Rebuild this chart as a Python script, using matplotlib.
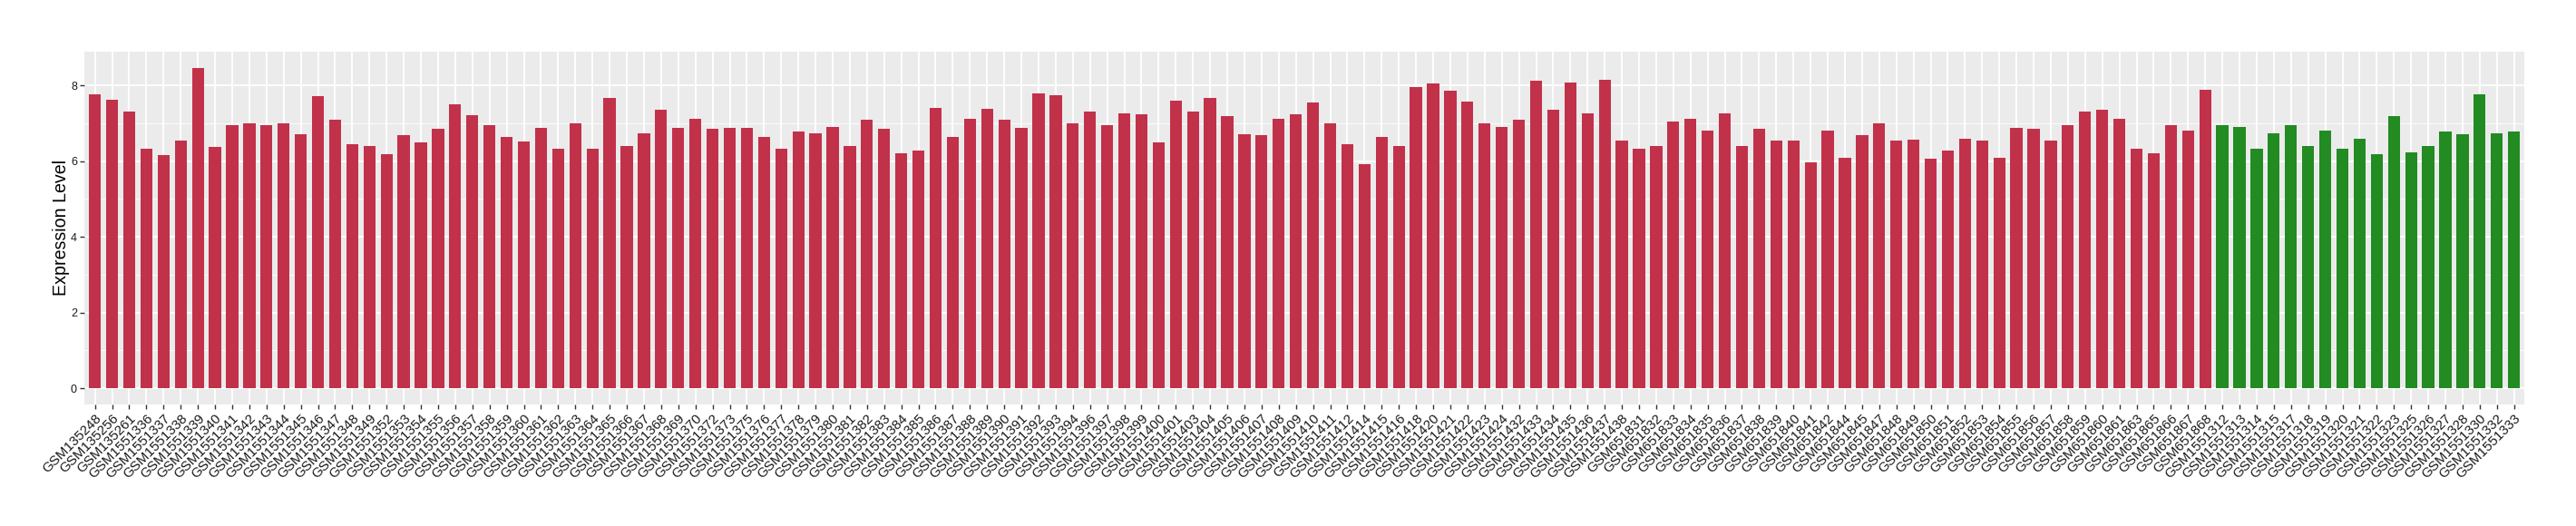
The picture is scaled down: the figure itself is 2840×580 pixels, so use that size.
import matplotlib
matplotlib.use("Agg")
import matplotlib.pyplot as plt
import numpy as np

plt.rcParams['font.family'] = ['Liberation Sans', 'DejaVu Sans']

samples_tumor = [
    "GSM135248", "GSM135256", "GSM135261", "GSM1551336", "GSM1551337", "GSM1551338",
    "GSM1551339", "GSM1551340", "GSM1551341", "GSM1551342", "GSM1551343", "GSM1551344",
    "GSM1551345", "GSM1551346", "GSM1551347", "GSM1551348", "GSM1551349", "GSM1551352",
    "GSM1551353", "GSM1551354", "GSM1551355", "GSM1551356", "GSM1551357", "GSM1551358",
    "GSM1551359", "GSM1551360", "GSM1551361", "GSM1551362", "GSM1551363", "GSM1551364",
    "GSM1551365", "GSM1551366", "GSM1551367", "GSM1551368", "GSM1551369", "GSM1551370",
    "GSM1551372", "GSM1551373", "GSM1551375", "GSM1551376", "GSM1551377", "GSM1551378",
    "GSM1551379", "GSM1551380", "GSM1551381", "GSM1551382", "GSM1551383", "GSM1551384",
    "GSM1551385", "GSM1551386", "GSM1551387", "GSM1551388", "GSM1551389", "GSM1551390",
    "GSM1551391", "GSM1551392", "GSM1551393", "GSM1551394", "GSM1551396", "GSM1551397",
    "GSM1551398", "GSM1551399", "GSM1551400", "GSM1551401", "GSM1551403", "GSM1551404",
    "GSM1551405", "GSM1551406", "GSM1551407", "GSM1551408", "GSM1551409", "GSM1551410",
    "GSM1551411", "GSM1551412", "GSM1551414", "GSM1551415", "GSM1551416", "GSM1551418",
    "GSM1551420", "GSM1551421", "GSM1551422", "GSM1551423", "GSM1551424", "GSM1551432",
    "GSM1551433", "GSM1551434", "GSM1551435", "GSM1551436", "GSM1551437", "GSM1551438",
    "GSM651831", "GSM651832", "GSM651833", "GSM651834", "GSM651835", "GSM651836",
    "GSM651837", "GSM651838", "GSM651839", "GSM651840", "GSM651841", "GSM651842",
    "GSM651844", "GSM651845", "GSM651847", "GSM651848", "GSM651849", "GSM651850",
    "GSM651851", "GSM651852", "GSM651853", "GSM651854", "GSM651855", "GSM651856",
    "GSM651857", "GSM651858", "GSM651859", "GSM651860", "GSM651861", "GSM651863",
    "GSM651865", "GSM651866", "GSM651867", "GSM651868",
]
values_tumor = [
    7.77, 7.63, 7.32, 6.34, 6.15, 6.55,
    8.47, 6.37, 6.94, 6.99, 6.96, 6.99,
    6.72, 7.72, 7.10, 6.46, 6.41, 6.18,
    6.70, 6.49, 6.85, 7.51, 7.22, 6.94,
    6.63, 6.51, 6.87, 6.32, 7.01, 6.32,
    7.67, 6.41, 6.74, 7.35, 6.87, 7.13,
    6.85, 6.89, 6.89, 6.63, 6.34, 6.79,
    6.74, 6.91, 6.41, 7.10, 6.85, 6.20,
    6.29, 7.41, 6.65, 7.13, 7.39, 7.10,
    6.87, 7.80, 7.75, 6.99, 7.30, 6.94,
    7.27, 7.25, 6.49, 7.61, 7.32, 7.67,
    7.20, 6.72, 6.70, 7.13, 7.25, 7.56,
    6.99, 6.46, 5.93, 6.63, 6.39, 7.97,
    8.06, 7.87, 7.58, 6.99, 6.91, 7.10,
    8.13, 7.36, 8.08, 7.27, 8.15, 6.54,
    6.32, 6.41, 7.05, 7.13, 6.82, 7.27,
    6.39, 6.85, 6.54, 6.55, 5.98, 6.82,
    6.08, 6.70, 6.99, 6.55, 6.58, 6.06,
    6.29, 6.60, 6.54, 6.10, 6.87, 6.85,
    6.55, 6.94, 7.32, 7.36, 7.13, 6.32,
    6.20, 6.96, 6.82, 7.89,
]
samples_normal = [
    "GSM1551312", "GSM1551313", "GSM1551314", "GSM1551315", "GSM1551317", "GSM1551318",
    "GSM1551319", "GSM1551320", "GSM1551321", "GSM1551322", "GSM1551323", "GSM1551325",
    "GSM1551326", "GSM1551327", "GSM1551328", "GSM1551330", "GSM1551332", "GSM1551333",
]
values_normal = [
    6.96, 6.91, 6.32, 6.74, 6.96, 6.39,
    6.82, 6.32, 6.60, 6.18, 7.20, 6.23,
    6.39, 6.79, 6.72, 7.77, 6.74, 6.79,
]
y_ticks = [0, 2, 4, 6, 8]
y_label = "Expression Level"

color_tumor = "#C2314A"
color_normal = "#228B22"

labels = samples_tumor + samples_normal
values = values_tumor + values_normal
colors = [color_tumor] * len(values_tumor) + [color_normal] * len(values_normal)
x = np.arange(len(labels))

W, H = 2840, 580
dpi = 100
fig = plt.figure(figsize=(W / dpi, H / dpi), dpi=dpi)
left, right = 93.3 / W, 2783 / W
bottom, top = 1 - 445.7 / H, 1 - 57 / H
ax = fig.add_axes([left, bottom, right - left, top - bottom])

ax.set_facecolor("#EBEBEB")
ymax = max(values)
ax.set_ylim(-0.05 * ymax, 1.05 * ymax)
ax.set_xlim(-0.6, len(labels) - 1 + 0.6)

# grid
for yv in [1, 3, 5, 7]:
    ax.axhline(yv, color="white", lw=0.6, zorder=0.5)
for yv in y_ticks:
    ax.axhline(yv, color="white", lw=1.3, zorder=0.6)
for xv in x:
    ax.axvline(xv, color="white", lw=1.3, zorder=0.6)

ax.bar(x, values, width=0.7, color=colors, zorder=2, linewidth=0)

for s in ax.spines.values():
    s.set_visible(False)

ax.set_yticks(y_ticks)
ax.set_yticklabels([str(v) for v in y_ticks])
ax.set_xticks(x)
ax.set_xticklabels(labels, rotation=45, ha="right", va="top", rotation_mode="anchor")
ax.tick_params(axis="both", length=3.5, width=1.0, color="#333333")
ax.tick_params(axis="y", labelsize=9, labelcolor="#1A1A1A", pad=2.5)
ax.tick_params(axis="x", labelsize=10.9, labelcolor="#1A1A1A", pad=2.5)

ax.set_ylabel(y_label, fontsize=14.1, color="black", labelpad=1)

fig.savefig("out.png", dpi=dpi)
